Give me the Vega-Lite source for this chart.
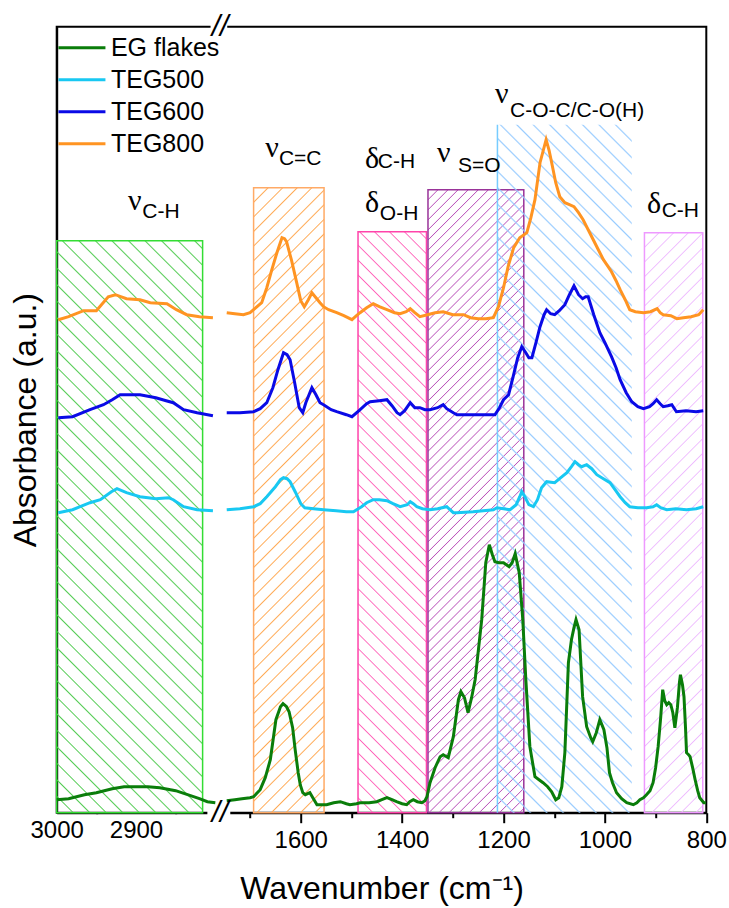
{
"$schema":"https://vega.github.io/schema/vega-lite/v6.json",
"width":649.6,"height":786,
"autosize":"none",
"padding":{"left":56.7,"top":26.7,"right":22.7,"bottom":95.3},
"background":"white",
"config":{"view":{"stroke":"black","strokeWidth":2},"font":"Liberation Sans"},
"datasets":{
"eg":[{"w":3000,"a":13,"g":"L"},{"w":2985,"a":14,"g":"L"},{"w":2965,"a":18,"g":"L"},{"w":2950,"a":20,"g":"L"},{"w":2930,"a":24,"g":"L"},{"w":2915,"a":26,"g":"L"},{"w":2900,"a":26,"g":"L"},{"w":2885,"a":26,"g":"L"},{"w":2870,"a":25,"g":"L"},{"w":2850,"a":22,"g":"L"},{"w":2835,"a":18,"g":"L"},{"w":2820,"a":14,"g":"L"},{"w":2810,"a":11,"g":"L"},{"w":2800,"a":10,"g":"L"},
{"w":1746,"a":12,"g":"R"},{"w":1730,"a":13,"g":"R"},{"w":1716,"a":14,"g":"R"},{"w":1700,"a":15,"g":"R"},{"w":1693,"a":16,"g":"R"},{"w":1680,"a":23,"g":"R"},{"w":1670,"a":35,"g":"R"},{"w":1660,"a":53,"g":"R"},{"w":1649,"a":93,"g":"R"},{"w":1640,"a":106,"g":"R"},{"w":1635,"a":109,"g":"R"},{"w":1628,"a":106,"g":"R"},{"w":1623,"a":101,"g":"R"},{"w":1616,"a":85,"g":"R"},{"w":1611,"a":63,"g":"R"},{"w":1605,"a":40,"g":"R"},{"w":1601,"a":28,"g":"R"},{"w":1596,"a":20,"g":"R"},{"w":1591,"a":18,"g":"R"},{"w":1582,"a":20,"g":"R"},{"w":1575,"a":14,"g":"R"},{"w":1568,"a":8,"g":"R"},{"w":1549,"a":8,"g":"R"},{"w":1535,"a":10,"g":"R"},{"w":1522,"a":11,"g":"R"},{"w":1510,"a":9,"g":"R"},{"w":1503,"a":8,"g":"R"},{"w":1490,"a":9,"g":"R"},{"w":1483,"a":10,"g":"R"},{"w":1465,"a":10,"g":"R"},{"w":1450,"a":11,"g":"R"},{"w":1440,"a":13,"g":"R"},{"w":1430,"a":15,"g":"R"},{"w":1420,"a":13,"g":"R"},{"w":1411,"a":11,"g":"R"},{"w":1400,"a":9,"g":"R"},{"w":1391,"a":8,"g":"R"},{"w":1385,"a":11,"g":"R"},{"w":1378,"a":13,"g":"R"},{"w":1370,"a":11,"g":"R"},{"w":1361,"a":10,"g":"R"},{"w":1355,"a":12,"g":"R"},{"w":1351,"a":16,"g":"R"},{"w":1345,"a":30,"g":"R"},{"w":1335,"a":45,"g":"R"},{"w":1325,"a":56,"g":"R"},{"w":1319,"a":58,"g":"R"},{"w":1309,"a":55,"g":"R"},{"w":1299,"a":76,"g":"R"},{"w":1289,"a":113,"g":"R"},{"w":1284,"a":121,"g":"R"},{"w":1277,"a":115,"g":"R"},{"w":1270,"a":100,"g":"R"},{"w":1263,"a":115,"g":"R"},{"w":1256,"a":133,"g":"R"},{"w":1243,"a":193,"g":"R"},{"w":1235,"a":250,"g":"R"},{"w":1228,"a":268,"g":"R"},{"w":1222,"a":258,"g":"R"},{"w":1217,"a":251,"g":"R"},{"w":1209,"a":250,"g":"R"},{"w":1200,"a":250,"g":"R"},{"w":1189,"a":246,"g":"R"},{"w":1183,"a":250,"g":"R"},{"w":1177,"a":259,"g":"R"},{"w":1169,"a":240,"g":"R"},{"w":1162,"a":193,"g":"R"},{"w":1156,"a":133,"g":"R"},{"w":1148,"a":66,"g":"R"},{"w":1138,"a":36,"g":"R"},{"w":1130,"a":33,"g":"R"},{"w":1122,"a":30,"g":"R"},{"w":1113,"a":26,"g":"R"},{"w":1105,"a":21,"g":"R"},{"w":1097,"a":13,"g":"R"},{"w":1091,"a":15,"g":"R"},{"w":1085,"a":26,"g":"R"},{"w":1079,"a":60,"g":"R"},{"w":1072,"a":150,"g":"R"},{"w":1066,"a":173,"g":"R"},{"w":1061,"a":185,"g":"R"},{"w":1057,"a":193,"g":"R"},{"w":1051,"a":183,"g":"R"},{"w":1044,"a":116,"g":"R"},{"w":1036,"a":86,"g":"R"},{"w":1028,"a":75,"g":"R"},{"w":1024,"a":71,"g":"R"},{"w":1017,"a":80,"g":"R"},{"w":1010,"a":93,"g":"R"},{"w":1002,"a":83,"g":"R"},{"w":996,"a":65,"g":"R"},{"w":991,"a":40,"g":"R"},{"w":985,"a":30,"g":"R"},{"w":977,"a":20,"g":"R"},{"w":967,"a":14,"g":"R"},{"w":957,"a":10,"g":"R"},{"w":944,"a":8,"g":"R"},{"w":937,"a":10,"g":"R"},{"w":931,"a":13,"g":"R"},{"w":924,"a":15,"g":"R"},{"w":918,"a":18,"g":"R"},{"w":911,"a":22,"g":"R"},{"w":905,"a":30,"g":"R"},{"w":900,"a":45,"g":"R"},{"w":895,"a":66,"g":"R"},{"w":890,"a":95,"g":"R"},{"w":886,"a":123,"g":"R"},{"w":882,"a":112,"g":"R"},{"w":878,"a":108,"g":"R"},{"w":874,"a":110,"g":"R"},{"w":870,"a":108,"g":"R"},{"w":866,"a":100,"g":"R"},{"w":862,"a":85,"g":"R"},{"w":857,"a":105,"g":"R"},{"w":853,"a":130,"g":"R"},{"w":851,"a":138,"g":"R"},{"w":847,"a":128,"g":"R"},{"w":844,"a":116,"g":"R"},{"w":841,"a":85,"g":"R"},{"w":839,"a":60,"g":"R"},{"w":835,"a":58,"g":"R"},{"w":832,"a":56,"g":"R"},{"w":827,"a":45,"g":"R"},{"w":822,"a":33,"g":"R"},{"w":817,"a":22,"g":"R"},{"w":813,"a":15,"g":"R"},{"w":805,"a":10,"g":"R"},{"w":801,"a":10,"g":"R"}],
"t500":[{"w":2998,"a":300,"g":"L"},{"w":2980,"a":303,"g":"L"},{"w":2958,"a":310,"g":"L"},{"w":2945,"a":313,"g":"L"},{"w":2931,"a":321,"g":"L"},{"w":2924,"a":324,"g":"L"},{"w":2912,"a":320,"g":"L"},{"w":2895,"a":316,"g":"L"},{"w":2875,"a":314,"g":"L"},{"w":2859,"a":315,"g":"L"},{"w":2853,"a":313,"g":"L"},{"w":2840,"a":306,"g":"L"},{"w":2823,"a":303,"g":"L"},{"w":2803,"a":302,"g":"L"},
{"w":1746,"a":303,"g":"R"},{"w":1720,"a":304,"g":"R"},{"w":1693,"a":306,"g":"R"},{"w":1680,"a":309,"g":"R"},{"w":1667,"a":316,"g":"R"},{"w":1650,"a":326,"g":"R"},{"w":1640,"a":333,"g":"R"},{"w":1634,"a":335,"g":"R"},{"w":1627,"a":334,"g":"R"},{"w":1621,"a":331,"g":"R"},{"w":1610,"a":320,"g":"R"},{"w":1600,"a":309,"g":"R"},{"w":1592,"a":305,"g":"R"},{"w":1575,"a":304,"g":"R"},{"w":1555,"a":303,"g":"R"},{"w":1530,"a":302,"g":"R"},{"w":1510,"a":301,"g":"R"},{"w":1496,"a":301,"g":"R"},{"w":1480,"a":306,"g":"R"},{"w":1470,"a":310,"g":"R"},{"w":1457,"a":313,"g":"R"},{"w":1445,"a":313,"g":"R"},{"w":1430,"a":312,"g":"R"},{"w":1418,"a":309,"g":"R"},{"w":1404,"a":306,"g":"R"},{"w":1390,"a":308,"g":"R"},{"w":1384,"a":311,"g":"R"},{"w":1378,"a":309,"g":"R"},{"w":1371,"a":306,"g":"R"},{"w":1360,"a":304,"g":"R"},{"w":1345,"a":303,"g":"R"},{"w":1330,"a":304,"g":"R"},{"w":1312,"a":306,"g":"R"},{"w":1299,"a":300,"g":"R"},{"w":1292,"a":300,"g":"R"},{"w":1260,"a":301,"g":"R"},{"w":1240,"a":302,"g":"R"},{"w":1220,"a":303,"g":"R"},{"w":1213,"a":305,"g":"R"},{"w":1200,"a":304,"g":"R"},{"w":1187,"a":303,"g":"R"},{"w":1175,"a":308,"g":"R"},{"w":1168,"a":316,"g":"R"},{"w":1164,"a":321,"g":"R"},{"w":1158,"a":316,"g":"R"},{"w":1150,"a":308,"g":"R"},{"w":1141,"a":306,"g":"R"},{"w":1133,"a":313,"g":"R"},{"w":1125,"a":325,"g":"R"},{"w":1115,"a":331,"g":"R"},{"w":1099,"a":330,"g":"R"},{"w":1087,"a":335,"g":"R"},{"w":1075,"a":340,"g":"R"},{"w":1066,"a":346,"g":"R"},{"w":1059,"a":351,"g":"R"},{"w":1052,"a":348,"g":"R"},{"w":1046,"a":346,"g":"R"},{"w":1036,"a":348,"g":"R"},{"w":1026,"a":344,"g":"R"},{"w":1016,"a":338,"g":"R"},{"w":1003,"a":334,"g":"R"},{"w":990,"a":330,"g":"R"},{"w":980,"a":323,"g":"R"},{"w":970,"a":316,"g":"R"},{"w":960,"a":310,"g":"R"},{"w":951,"a":306,"g":"R"},{"w":935,"a":305,"g":"R"},{"w":918,"a":305,"g":"R"},{"w":905,"a":306,"g":"R"},{"w":898,"a":308,"g":"R"},{"w":890,"a":305,"g":"R"},{"w":878,"a":303,"g":"R"},{"w":860,"a":304,"g":"R"},{"w":839,"a":303,"g":"R"},{"w":820,"a":304,"g":"R"},{"w":806,"a":306,"g":"R"}],
"t600":[{"w":2998,"a":395,"g":"L"},{"w":2980,"a":396,"g":"L"},{"w":2958,"a":403,"g":"L"},{"w":2941,"a":408,"g":"L"},{"w":2930,"a":413,"g":"L"},{"w":2920,"a":418,"g":"L"},{"w":2905,"a":418,"g":"L"},{"w":2895,"a":418,"g":"L"},{"w":2875,"a":415,"g":"L"},{"w":2862,"a":412,"g":"L"},{"w":2853,"a":410,"g":"L"},{"w":2840,"a":403,"g":"L"},{"w":2823,"a":400,"g":"L"},{"w":2803,"a":397,"g":"L"},
{"w":1746,"a":400,"g":"R"},{"w":1720,"a":400,"g":"R"},{"w":1693,"a":401,"g":"R"},{"w":1680,"a":404,"g":"R"},{"w":1667,"a":410,"g":"R"},{"w":1655,"a":425,"g":"R"},{"w":1645,"a":443,"g":"R"},{"w":1634,"a":460,"g":"R"},{"w":1627,"a":458,"g":"R"},{"w":1621,"a":453,"g":"R"},{"w":1612,"a":430,"g":"R"},{"w":1603,"a":405,"g":"R"},{"w":1596,"a":400,"g":"R"},{"w":1590,"a":410,"g":"R"},{"w":1578,"a":425,"g":"R"},{"w":1570,"a":418,"g":"R"},{"w":1562,"a":410,"g":"R"},{"w":1555,"a":408,"g":"R"},{"w":1540,"a":403,"g":"R"},{"w":1529,"a":401,"g":"R"},{"w":1510,"a":398,"g":"R"},{"w":1499,"a":396,"g":"R"},{"w":1485,"a":402,"g":"R"},{"w":1470,"a":409,"g":"R"},{"w":1463,"a":411,"g":"R"},{"w":1445,"a":412,"g":"R"},{"w":1430,"a":413,"g":"R"},{"w":1420,"a":407,"g":"R"},{"w":1410,"a":400,"g":"R"},{"w":1404,"a":398,"g":"R"},{"w":1395,"a":402,"g":"R"},{"w":1384,"a":410,"g":"R"},{"w":1375,"a":405,"g":"R"},{"w":1365,"a":405,"g":"R"},{"w":1355,"a":403,"g":"R"},{"w":1345,"a":403,"g":"R"},{"w":1330,"a":405,"g":"R"},{"w":1319,"a":408,"g":"R"},{"w":1312,"a":404,"g":"R"},{"w":1299,"a":400,"g":"R"},{"w":1292,"a":398,"g":"R"},{"w":1260,"a":398,"g":"R"},{"w":1240,"a":398,"g":"R"},{"w":1217,"a":398,"g":"R"},{"w":1208,"a":405,"g":"R"},{"w":1200,"a":413,"g":"R"},{"w":1190,"a":418,"g":"R"},{"w":1181,"a":436,"g":"R"},{"w":1172,"a":455,"g":"R"},{"w":1164,"a":466,"g":"R"},{"w":1156,"a":460,"g":"R"},{"w":1150,"a":455,"g":"R"},{"w":1144,"a":455,"g":"R"},{"w":1136,"a":470,"g":"R"},{"w":1128,"a":486,"g":"R"},{"w":1120,"a":498,"g":"R"},{"w":1115,"a":503,"g":"R"},{"w":1107,"a":499,"g":"R"},{"w":1099,"a":498,"g":"R"},{"w":1090,"a":502,"g":"R"},{"w":1079,"a":508,"g":"R"},{"w":1070,"a":518,"g":"R"},{"w":1061,"a":527,"g":"R"},{"w":1052,"a":518,"g":"R"},{"w":1044,"a":514,"g":"R"},{"w":1038,"a":516,"g":"R"},{"w":1033,"a":516,"g":"R"},{"w":1022,"a":498,"g":"R"},{"w":1010,"a":480,"g":"R"},{"w":1000,"a":470,"g":"R"},{"w":987,"a":456,"g":"R"},{"w":978,"a":445,"g":"R"},{"w":970,"a":433,"g":"R"},{"w":958,"a":420,"g":"R"},{"w":947,"a":411,"g":"R"},{"w":935,"a":406,"g":"R"},{"w":924,"a":404,"g":"R"},{"w":912,"a":406,"g":"R"},{"w":905,"a":409,"g":"R"},{"w":898,"a":413,"g":"R"},{"w":891,"a":409,"g":"R"},{"w":885,"a":406,"g":"R"},{"w":876,"a":407,"g":"R"},{"w":868,"a":408,"g":"R"},{"w":859,"a":401,"g":"R"},{"w":840,"a":402,"g":"R"},{"w":820,"a":401,"g":"R"},{"w":806,"a":402,"g":"R"}],
"t800":[{"w":2998,"a":493,"g":"L"},{"w":2985,"a":496,"g":"L"},{"w":2966,"a":502,"g":"L"},{"w":2950,"a":502,"g":"L"},{"w":2935,"a":516,"g":"L"},{"w":2926,"a":518,"g":"L"},{"w":2912,"a":514,"g":"L"},{"w":2895,"a":513,"g":"L"},{"w":2882,"a":510,"g":"L"},{"w":2861,"a":509,"g":"L"},{"w":2849,"a":503,"g":"L"},{"w":2836,"a":498,"g":"L"},{"w":2820,"a":496,"g":"L"},{"w":2803,"a":495,"g":"L"},
{"w":1746,"a":500,"g":"R"},{"w":1730,"a":499,"g":"R"},{"w":1713,"a":498,"g":"R"},{"w":1700,"a":500,"g":"R"},{"w":1693,"a":503,"g":"R"},{"w":1677,"a":510,"g":"R"},{"w":1667,"a":525,"g":"R"},{"w":1657,"a":543,"g":"R"},{"w":1647,"a":560,"g":"R"},{"w":1637,"a":575,"g":"R"},{"w":1632,"a":574,"g":"R"},{"w":1628,"a":571,"g":"R"},{"w":1618,"a":552,"g":"R"},{"w":1608,"a":530,"g":"R"},{"w":1600,"a":512,"g":"R"},{"w":1593,"a":506,"g":"R"},{"w":1585,"a":513,"g":"R"},{"w":1578,"a":520,"g":"R"},{"w":1570,"a":515,"g":"R"},{"w":1562,"a":510,"g":"R"},{"w":1555,"a":506,"g":"R"},{"w":1545,"a":503,"g":"R"},{"w":1529,"a":500,"g":"R"},{"w":1515,"a":497,"g":"R"},{"w":1499,"a":493,"g":"R"},{"w":1490,"a":497,"g":"R"},{"w":1483,"a":500,"g":"R"},{"w":1470,"a":505,"g":"R"},{"w":1457,"a":509,"g":"R"},{"w":1445,"a":506,"g":"R"},{"w":1430,"a":503,"g":"R"},{"w":1415,"a":500,"g":"R"},{"w":1404,"a":499,"g":"R"},{"w":1392,"a":501,"g":"R"},{"w":1384,"a":504,"g":"R"},{"w":1375,"a":500,"g":"R"},{"w":1365,"a":496,"g":"R"},{"w":1350,"a":498,"g":"R"},{"w":1335,"a":500,"g":"R"},{"w":1319,"a":501,"g":"R"},{"w":1300,"a":498,"g":"R"},{"w":1279,"a":498,"g":"R"},{"w":1265,"a":495,"g":"R"},{"w":1250,"a":494,"g":"R"},{"w":1235,"a":494,"g":"R"},{"w":1220,"a":495,"g":"R"},{"w":1210,"a":506,"g":"R"},{"w":1200,"a":525,"g":"R"},{"w":1191,"a":546,"g":"R"},{"w":1180,"a":565,"g":"R"},{"w":1168,"a":575,"g":"R"},{"w":1154,"a":580,"g":"R"},{"w":1146,"a":595,"g":"R"},{"w":1138,"a":613,"g":"R"},{"w":1128,"a":650,"g":"R"},{"w":1116,"a":673,"g":"R"},{"w":1110,"a":662,"g":"R"},{"w":1105,"a":650,"g":"R"},{"w":1097,"a":630,"g":"R"},{"w":1089,"a":616,"g":"R"},{"w":1079,"a":610,"g":"R"},{"w":1070,"a":608,"g":"R"},{"w":1061,"a":606,"g":"R"},{"w":1052,"a":600,"g":"R"},{"w":1043,"a":593,"g":"R"},{"w":1033,"a":583,"g":"R"},{"w":1023,"a":573,"g":"R"},{"w":1013,"a":563,"g":"R"},{"w":1003,"a":553,"g":"R"},{"w":995,"a":547,"g":"R"},{"w":987,"a":541,"g":"R"},{"w":978,"a":532,"g":"R"},{"w":970,"a":523,"g":"R"},{"w":960,"a":513,"g":"R"},{"w":951,"a":503,"g":"R"},{"w":940,"a":501,"g":"R"},{"w":924,"a":500,"g":"R"},{"w":910,"a":501,"g":"R"},{"w":897,"a":504,"g":"R"},{"w":891,"a":500,"g":"R"},{"w":885,"a":498,"g":"R"},{"w":870,"a":497,"g":"R"},{"w":858,"a":494,"g":"R"},{"w":845,"a":495,"g":"R"},{"w":830,"a":496,"g":"R"},{"w":815,"a":498,"g":"R"},{"w":806,"a":503,"g":"R"}],
"greek":[{"w":2910,"a":603,"t":"ν"},{"w":1670,"a":656,"t":"ν"},{"w":1473,"a":645,"t":"δ"},{"w":1473,"a":601,"t":"δ"},{"w":1331,"a":651,"t":"ν"},{"w":1217,"a":710,"t":"ν"},{"w":917,"a":600,"t":"δ"}],
"subs":[{"w":2892,"a":595,"t":"C-H"},{"w":1643,"a":648,"t":"C=C"},{"w":1448,"a":645,"t":"C-H"},{"w":1444,"a":593,"t":"O-H"},{"w":1290,"a":641,"t":"S=O"},{"w":1187,"a":696,"t":"C-O-C/C-O(H)"},{"w":888,"a":596,"t":"C-H"}]
},
"encoding":{
"x":{"field":"w","type":"quantitative","scale":{"domain":[3000,2800,1750,800],"range":[0,158.6,168,649.6],"nice":false,"zero":false},
"axis":{"title":"Wavenumber (cm⁻¹)","format":"d","values":[3000,2950,2900,2850,1700,1600,1500,1400,1300,1200,1100,1000,900,800],
"labelExpr":"(datum.value > 2000 ? datum.value % 100 != 0 : datum.value % 200 == 100) ? '' : datum.label",
"tickSize":{"condition":{"test":"datum.value > 2000 ? datum.value % 100 != 0 : datum.value % 200 == 100","value":5},"value":10},
"tickWidth":2,"tickColor":"black","domainColor":"black","domainWidth":2,"grid":false,
"labelFontSize":24,"labelColor":"black","labelPadding":6,"labelFlush":false,"labelOverlap":false,"labelBound":false,
"titleFontSize":32,"titleFontWeight":"normal","titleColor":"black","titlePadding":21}},
"y":{"field":"a","type":"quantitative","scale":{"domain":[0,786],"nice":false,"zero":false},
"axis":{"title":"Absorbance (a.u.)","ticks":false,"labels":false,"domain":true,"domainColor":"black","domainWidth":2,"grid":false,
"titleFontSize":32,"titleFontWeight":"normal","titleColor":"black","titlePadding":14}}
},
"layer":[
{"data":{"values":[{"w":3000,"w2":2816,"a":0,"a2":572}]},
"mark":{"type":"rect","stroke":"#3d3","strokeWidth":1.5,"fill":{"gradient":"linear","x1":0,"y1":1,"x2":0.3,"y2":-0.178,"stops":[
{"offset":0.021,"color":"#5c50"},{"offset":0.023,"color":"#5c5"},{"offset":0.025,"color":"#5c50"},
{"offset":0.044,"color":"#5c50"},{"offset":0.046,"color":"#5c5"},{"offset":0.048,"color":"#5c50"},
{"offset":0.067,"color":"#5c50"},{"offset":0.069,"color":"#5c5"},{"offset":0.071,"color":"#5c50"},
{"offset":0.09,"color":"#5c50"},{"offset":0.092,"color":"#5c5"},{"offset":0.094,"color":"#5c50"},
{"offset":0.113,"color":"#5c50"},{"offset":0.115,"color":"#5c5"},{"offset":0.117,"color":"#5c50"},
{"offset":0.136,"color":"#5c50"},{"offset":0.138,"color":"#5c5"},{"offset":0.14,"color":"#5c50"},
{"offset":0.159,"color":"#5c50"},{"offset":0.161,"color":"#5c5"},{"offset":0.163,"color":"#5c50"},
{"offset":0.182,"color":"#5c50"},{"offset":0.184,"color":"#5c5"},{"offset":0.186,"color":"#5c50"},
{"offset":0.205,"color":"#5c50"},{"offset":0.207,"color":"#5c5"},{"offset":0.209,"color":"#5c50"},
{"offset":0.228,"color":"#5c50"},{"offset":0.23,"color":"#5c5"},{"offset":0.232,"color":"#5c50"},
{"offset":0.251,"color":"#5c50"},{"offset":0.253,"color":"#5c5"},{"offset":0.255,"color":"#5c50"},
{"offset":0.274,"color":"#5c50"},{"offset":0.276,"color":"#5c5"},{"offset":0.278,"color":"#5c50"},
{"offset":0.297,"color":"#5c50"},{"offset":0.299,"color":"#5c5"},{"offset":0.301,"color":"#5c50"},
{"offset":0.32,"color":"#5c50"},{"offset":0.322,"color":"#5c5"},{"offset":0.324,"color":"#5c50"},
{"offset":0.343,"color":"#5c50"},{"offset":0.345,"color":"#5c5"},{"offset":0.347,"color":"#5c50"},
{"offset":0.366,"color":"#5c50"},{"offset":0.368,"color":"#5c5"},{"offset":0.37,"color":"#5c50"},
{"offset":0.389,"color":"#5c50"},{"offset":0.391,"color":"#5c5"},{"offset":0.393,"color":"#5c50"},
{"offset":0.412,"color":"#5c50"},{"offset":0.414,"color":"#5c5"},{"offset":0.416,"color":"#5c50"},
{"offset":0.435,"color":"#5c50"},{"offset":0.437,"color":"#5c5"},{"offset":0.439,"color":"#5c50"},
{"offset":0.458,"color":"#5c50"},{"offset":0.46,"color":"#5c5"},{"offset":0.462,"color":"#5c50"},
{"offset":0.481,"color":"#5c50"},{"offset":0.483,"color":"#5c5"},{"offset":0.485,"color":"#5c50"},
{"offset":0.504,"color":"#5c50"},{"offset":0.506,"color":"#5c5"},{"offset":0.508,"color":"#5c50"},
{"offset":0.527,"color":"#5c50"},{"offset":0.529,"color":"#5c5"},{"offset":0.531,"color":"#5c50"},
{"offset":0.55,"color":"#5c50"},{"offset":0.552,"color":"#5c5"},{"offset":0.554,"color":"#5c50"},
{"offset":0.573,"color":"#5c50"},{"offset":0.575,"color":"#5c5"},{"offset":0.577,"color":"#5c50"},
{"offset":0.596,"color":"#5c50"},{"offset":0.598,"color":"#5c5"},{"offset":0.6,"color":"#5c50"},
{"offset":0.619,"color":"#5c50"},{"offset":0.621,"color":"#5c5"},{"offset":0.623,"color":"#5c50"},
{"offset":0.642,"color":"#5c50"},{"offset":0.644,"color":"#5c5"},{"offset":0.646,"color":"#5c50"},
{"offset":0.665,"color":"#5c50"},{"offset":0.667,"color":"#5c5"},{"offset":0.669,"color":"#5c50"},
{"offset":0.688,"color":"#5c50"},{"offset":0.69,"color":"#5c5"},{"offset":0.692,"color":"#5c50"},
{"offset":0.711,"color":"#5c50"},{"offset":0.713,"color":"#5c5"},{"offset":0.715,"color":"#5c50"},
{"offset":0.734,"color":"#5c50"},{"offset":0.736,"color":"#5c5"},{"offset":0.738,"color":"#5c50"},
{"offset":0.757,"color":"#5c50"},{"offset":0.759,"color":"#5c5"},{"offset":0.761,"color":"#5c50"},
{"offset":0.78,"color":"#5c50"},{"offset":0.782,"color":"#5c5"},{"offset":0.784,"color":"#5c50"},
{"offset":0.803,"color":"#5c50"},{"offset":0.805,"color":"#5c5"},{"offset":0.807,"color":"#5c50"},
{"offset":0.826,"color":"#5c50"},{"offset":0.828,"color":"#5c5"},{"offset":0.83,"color":"#5c50"},
{"offset":0.849,"color":"#5c50"},{"offset":0.851,"color":"#5c5"},{"offset":0.853,"color":"#5c50"},
{"offset":0.872,"color":"#5c50"},{"offset":0.874,"color":"#5c5"},{"offset":0.876,"color":"#5c50"},
{"offset":0.895,"color":"#5c50"},{"offset":0.897,"color":"#5c5"},{"offset":0.899,"color":"#5c50"},
{"offset":0.918,"color":"#5c50"},{"offset":0.92,"color":"#5c5"},{"offset":0.922,"color":"#5c50"},
{"offset":0.941,"color":"#5c50"},{"offset":0.943,"color":"#5c5"},{"offset":0.945,"color":"#5c50"},
{"offset":0.964,"color":"#5c50"},{"offset":0.966,"color":"#5c5"},{"offset":0.968,"color":"#5c50"},
{"offset":0.987,"color":"#5c50"},{"offset":0.989,"color":"#5c5"},{"offset":0.991,"color":"#5c50"}]}},
"encoding":{"x2":{"field":"w2"},"y2":{"field":"a2"}}},
{"data":{"values":[{"w":1693,"w2":1554,"a":0,"a2":625}]},
"mark":{"type":"rect","stroke":"#fa6","strokeWidth":1.5,"fill":{"gradient":"linear","x1":0,"y1":0,"x2":0.1242,"y2":1.099,"stops":[
{"offset":0.019,"color":"#fa50"},{"offset":0.021,"color":"#fa5"},{"offset":0.023,"color":"#fa50"},
{"offset":0.04,"color":"#fa50"},{"offset":0.042,"color":"#fa5"},{"offset":0.044,"color":"#fa50"},
{"offset":0.061,"color":"#fa50"},{"offset":0.063,"color":"#fa5"},{"offset":0.065,"color":"#fa50"},
{"offset":0.082,"color":"#fa50"},{"offset":0.084,"color":"#fa5"},{"offset":0.086,"color":"#fa50"},
{"offset":0.103,"color":"#fa50"},{"offset":0.105,"color":"#fa5"},{"offset":0.107,"color":"#fa50"},
{"offset":0.124,"color":"#fa50"},{"offset":0.126,"color":"#fa5"},{"offset":0.128,"color":"#fa50"},
{"offset":0.145,"color":"#fa50"},{"offset":0.147,"color":"#fa5"},{"offset":0.149,"color":"#fa50"},
{"offset":0.166,"color":"#fa50"},{"offset":0.168,"color":"#fa5"},{"offset":0.17,"color":"#fa50"},
{"offset":0.187,"color":"#fa50"},{"offset":0.189,"color":"#fa5"},{"offset":0.191,"color":"#fa50"},
{"offset":0.208,"color":"#fa50"},{"offset":0.21,"color":"#fa5"},{"offset":0.212,"color":"#fa50"},
{"offset":0.229,"color":"#fa50"},{"offset":0.231,"color":"#fa5"},{"offset":0.233,"color":"#fa50"},
{"offset":0.25,"color":"#fa50"},{"offset":0.252,"color":"#fa5"},{"offset":0.254,"color":"#fa50"},
{"offset":0.271,"color":"#fa50"},{"offset":0.273,"color":"#fa5"},{"offset":0.275,"color":"#fa50"},
{"offset":0.292,"color":"#fa50"},{"offset":0.294,"color":"#fa5"},{"offset":0.296,"color":"#fa50"},
{"offset":0.313,"color":"#fa50"},{"offset":0.315,"color":"#fa5"},{"offset":0.317,"color":"#fa50"},
{"offset":0.334,"color":"#fa50"},{"offset":0.336,"color":"#fa5"},{"offset":0.338,"color":"#fa50"},
{"offset":0.355,"color":"#fa50"},{"offset":0.357,"color":"#fa5"},{"offset":0.359,"color":"#fa50"},
{"offset":0.376,"color":"#fa50"},{"offset":0.378,"color":"#fa5"},{"offset":0.38,"color":"#fa50"},
{"offset":0.397,"color":"#fa50"},{"offset":0.399,"color":"#fa5"},{"offset":0.401,"color":"#fa50"},
{"offset":0.418,"color":"#fa50"},{"offset":0.42,"color":"#fa5"},{"offset":0.422,"color":"#fa50"},
{"offset":0.439,"color":"#fa50"},{"offset":0.441,"color":"#fa5"},{"offset":0.443,"color":"#fa50"},
{"offset":0.46,"color":"#fa50"},{"offset":0.462,"color":"#fa5"},{"offset":0.464,"color":"#fa50"},
{"offset":0.481,"color":"#fa50"},{"offset":0.483,"color":"#fa5"},{"offset":0.485,"color":"#fa50"},
{"offset":0.502,"color":"#fa50"},{"offset":0.504,"color":"#fa5"},{"offset":0.506,"color":"#fa50"},
{"offset":0.523,"color":"#fa50"},{"offset":0.525,"color":"#fa5"},{"offset":0.527,"color":"#fa50"},
{"offset":0.544,"color":"#fa50"},{"offset":0.546,"color":"#fa5"},{"offset":0.548,"color":"#fa50"},
{"offset":0.565,"color":"#fa50"},{"offset":0.567,"color":"#fa5"},{"offset":0.569,"color":"#fa50"},
{"offset":0.586,"color":"#fa50"},{"offset":0.588,"color":"#fa5"},{"offset":0.59,"color":"#fa50"},
{"offset":0.607,"color":"#fa50"},{"offset":0.609,"color":"#fa5"},{"offset":0.611,"color":"#fa50"},
{"offset":0.628,"color":"#fa50"},{"offset":0.63,"color":"#fa5"},{"offset":0.632,"color":"#fa50"},
{"offset":0.649,"color":"#fa50"},{"offset":0.651,"color":"#fa5"},{"offset":0.653,"color":"#fa50"},
{"offset":0.67,"color":"#fa50"},{"offset":0.672,"color":"#fa5"},{"offset":0.674,"color":"#fa50"},
{"offset":0.691,"color":"#fa50"},{"offset":0.693,"color":"#fa5"},{"offset":0.695,"color":"#fa50"},
{"offset":0.712,"color":"#fa50"},{"offset":0.714,"color":"#fa5"},{"offset":0.716,"color":"#fa50"},
{"offset":0.733,"color":"#fa50"},{"offset":0.735,"color":"#fa5"},{"offset":0.737,"color":"#fa50"},
{"offset":0.754,"color":"#fa50"},{"offset":0.756,"color":"#fa5"},{"offset":0.758,"color":"#fa50"},
{"offset":0.775,"color":"#fa50"},{"offset":0.777,"color":"#fa5"},{"offset":0.779,"color":"#fa50"},
{"offset":0.796,"color":"#fa50"},{"offset":0.798,"color":"#fa5"},{"offset":0.8,"color":"#fa50"},
{"offset":0.817,"color":"#fa50"},{"offset":0.819,"color":"#fa5"},{"offset":0.821,"color":"#fa50"},
{"offset":0.838,"color":"#fa50"},{"offset":0.84,"color":"#fa5"},{"offset":0.842,"color":"#fa50"},
{"offset":0.859,"color":"#fa50"},{"offset":0.861,"color":"#fa5"},{"offset":0.863,"color":"#fa50"},
{"offset":0.88,"color":"#fa50"},{"offset":0.882,"color":"#fa5"},{"offset":0.884,"color":"#fa50"},
{"offset":0.901,"color":"#fa50"},{"offset":0.903,"color":"#fa5"},{"offset":0.905,"color":"#fa50"},
{"offset":0.922,"color":"#fa50"},{"offset":0.924,"color":"#fa5"},{"offset":0.926,"color":"#fa50"},
{"offset":0.943,"color":"#fa50"},{"offset":0.945,"color":"#fa5"},{"offset":0.947,"color":"#fa50"},
{"offset":0.964,"color":"#fa50"},{"offset":0.966,"color":"#fa5"},{"offset":0.968,"color":"#fa50"},
{"offset":0.985,"color":"#fa50"},{"offset":0.987,"color":"#fa5"},{"offset":0.989,"color":"#fa50"}]}},
"encoding":{"x2":{"field":"w2"},"y2":{"field":"a2"}}},
{"data":{"values":[{"w":1487,"w2":1352,"a":0,"a2":581}]},
"mark":{"type":"rect","stroke":"#f4a","strokeWidth":1.5,"fill":{"gradient":"linear","x1":0,"y1":1,"x2":0.1298,"y2":-0.1024,"stops":[
{"offset":0.021,"color":"#f6b0"},{"offset":0.023,"color":"#f6b"},{"offset":0.025,"color":"#f6b0"},
{"offset":0.044,"color":"#f6b0"},{"offset":0.046,"color":"#f6b"},{"offset":0.048,"color":"#f6b0"},
{"offset":0.067,"color":"#f6b0"},{"offset":0.069,"color":"#f6b"},{"offset":0.071,"color":"#f6b0"},
{"offset":0.09,"color":"#f6b0"},{"offset":0.092,"color":"#f6b"},{"offset":0.094,"color":"#f6b0"},
{"offset":0.113,"color":"#f6b0"},{"offset":0.115,"color":"#f6b"},{"offset":0.117,"color":"#f6b0"},
{"offset":0.136,"color":"#f6b0"},{"offset":0.138,"color":"#f6b"},{"offset":0.14,"color":"#f6b0"},
{"offset":0.159,"color":"#f6b0"},{"offset":0.161,"color":"#f6b"},{"offset":0.163,"color":"#f6b0"},
{"offset":0.182,"color":"#f6b0"},{"offset":0.184,"color":"#f6b"},{"offset":0.186,"color":"#f6b0"},
{"offset":0.205,"color":"#f6b0"},{"offset":0.207,"color":"#f6b"},{"offset":0.209,"color":"#f6b0"},
{"offset":0.228,"color":"#f6b0"},{"offset":0.23,"color":"#f6b"},{"offset":0.232,"color":"#f6b0"},
{"offset":0.251,"color":"#f6b0"},{"offset":0.253,"color":"#f6b"},{"offset":0.255,"color":"#f6b0"},
{"offset":0.274,"color":"#f6b0"},{"offset":0.276,"color":"#f6b"},{"offset":0.278,"color":"#f6b0"},
{"offset":0.297,"color":"#f6b0"},{"offset":0.299,"color":"#f6b"},{"offset":0.301,"color":"#f6b0"},
{"offset":0.32,"color":"#f6b0"},{"offset":0.322,"color":"#f6b"},{"offset":0.324,"color":"#f6b0"},
{"offset":0.343,"color":"#f6b0"},{"offset":0.345,"color":"#f6b"},{"offset":0.347,"color":"#f6b0"},
{"offset":0.366,"color":"#f6b0"},{"offset":0.368,"color":"#f6b"},{"offset":0.37,"color":"#f6b0"},
{"offset":0.389,"color":"#f6b0"},{"offset":0.391,"color":"#f6b"},{"offset":0.393,"color":"#f6b0"},
{"offset":0.412,"color":"#f6b0"},{"offset":0.414,"color":"#f6b"},{"offset":0.416,"color":"#f6b0"},
{"offset":0.435,"color":"#f6b0"},{"offset":0.437,"color":"#f6b"},{"offset":0.439,"color":"#f6b0"},
{"offset":0.458,"color":"#f6b0"},{"offset":0.46,"color":"#f6b"},{"offset":0.462,"color":"#f6b0"},
{"offset":0.481,"color":"#f6b0"},{"offset":0.483,"color":"#f6b"},{"offset":0.485,"color":"#f6b0"},
{"offset":0.504,"color":"#f6b0"},{"offset":0.506,"color":"#f6b"},{"offset":0.508,"color":"#f6b0"},
{"offset":0.527,"color":"#f6b0"},{"offset":0.529,"color":"#f6b"},{"offset":0.531,"color":"#f6b0"},
{"offset":0.55,"color":"#f6b0"},{"offset":0.552,"color":"#f6b"},{"offset":0.554,"color":"#f6b0"},
{"offset":0.573,"color":"#f6b0"},{"offset":0.575,"color":"#f6b"},{"offset":0.577,"color":"#f6b0"},
{"offset":0.596,"color":"#f6b0"},{"offset":0.598,"color":"#f6b"},{"offset":0.6,"color":"#f6b0"},
{"offset":0.619,"color":"#f6b0"},{"offset":0.621,"color":"#f6b"},{"offset":0.623,"color":"#f6b0"},
{"offset":0.642,"color":"#f6b0"},{"offset":0.644,"color":"#f6b"},{"offset":0.646,"color":"#f6b0"},
{"offset":0.665,"color":"#f6b0"},{"offset":0.667,"color":"#f6b"},{"offset":0.669,"color":"#f6b0"},
{"offset":0.688,"color":"#f6b0"},{"offset":0.69,"color":"#f6b"},{"offset":0.692,"color":"#f6b0"},
{"offset":0.711,"color":"#f6b0"},{"offset":0.713,"color":"#f6b"},{"offset":0.715,"color":"#f6b0"},
{"offset":0.734,"color":"#f6b0"},{"offset":0.736,"color":"#f6b"},{"offset":0.738,"color":"#f6b0"},
{"offset":0.757,"color":"#f6b0"},{"offset":0.759,"color":"#f6b"},{"offset":0.761,"color":"#f6b0"},
{"offset":0.78,"color":"#f6b0"},{"offset":0.782,"color":"#f6b"},{"offset":0.784,"color":"#f6b0"},
{"offset":0.803,"color":"#f6b0"},{"offset":0.805,"color":"#f6b"},{"offset":0.807,"color":"#f6b0"},
{"offset":0.826,"color":"#f6b0"},{"offset":0.828,"color":"#f6b"},{"offset":0.83,"color":"#f6b0"},
{"offset":0.849,"color":"#f6b0"},{"offset":0.851,"color":"#f6b"},{"offset":0.853,"color":"#f6b0"},
{"offset":0.872,"color":"#f6b0"},{"offset":0.874,"color":"#f6b"},{"offset":0.876,"color":"#f6b0"},
{"offset":0.895,"color":"#f6b0"},{"offset":0.897,"color":"#f6b"},{"offset":0.899,"color":"#f6b0"},
{"offset":0.918,"color":"#f6b0"},{"offset":0.92,"color":"#f6b"},{"offset":0.922,"color":"#f6b0"},
{"offset":0.941,"color":"#f6b0"},{"offset":0.943,"color":"#f6b"},{"offset":0.945,"color":"#f6b0"},
{"offset":0.964,"color":"#f6b0"},{"offset":0.966,"color":"#f6b"},{"offset":0.968,"color":"#f6b0"},
{"offset":0.987,"color":"#f6b0"},{"offset":0.989,"color":"#f6b"},{"offset":0.991,"color":"#f6b0"}]}},
"encoding":{"x2":{"field":"w2"},"y2":{"field":"a2"}}},
{"data":{"values":[{"w":1349,"w2":1160,"a":0,"a2":623}]},
"mark":{"type":"rect","stroke":"#939","strokeWidth":1.5,"fill":{"gradient":"linear","x1":0,"y1":0,"x2":0.1732,"y2":1.1271,"stops":[
{"offset":0.0125,"color":"#b5b0"},{"offset":0.014,"color":"#b5b"},{"offset":0.0155,"color":"#b5b0"},
{"offset":0.0265,"color":"#b5b0"},{"offset":0.028,"color":"#b5b"},{"offset":0.0295,"color":"#b5b0"},
{"offset":0.0405,"color":"#b5b0"},{"offset":0.042,"color":"#b5b"},{"offset":0.0435,"color":"#b5b0"},
{"offset":0.0545,"color":"#b5b0"},{"offset":0.056,"color":"#b5b"},{"offset":0.0575,"color":"#b5b0"},
{"offset":0.0685,"color":"#b5b0"},{"offset":0.07,"color":"#b5b"},{"offset":0.0715,"color":"#b5b0"},
{"offset":0.0825,"color":"#b5b0"},{"offset":0.084,"color":"#b5b"},{"offset":0.0855,"color":"#b5b0"},
{"offset":0.0965,"color":"#b5b0"},{"offset":0.098,"color":"#b5b"},{"offset":0.0995,"color":"#b5b0"},
{"offset":0.1105,"color":"#b5b0"},{"offset":0.112,"color":"#b5b"},{"offset":0.1135,"color":"#b5b0"},
{"offset":0.1245,"color":"#b5b0"},{"offset":0.126,"color":"#b5b"},{"offset":0.1275,"color":"#b5b0"},
{"offset":0.1385,"color":"#b5b0"},{"offset":0.14,"color":"#b5b"},{"offset":0.1415,"color":"#b5b0"},
{"offset":0.1525,"color":"#b5b0"},{"offset":0.154,"color":"#b5b"},{"offset":0.1555,"color":"#b5b0"},
{"offset":0.1665,"color":"#b5b0"},{"offset":0.168,"color":"#b5b"},{"offset":0.1695,"color":"#b5b0"},
{"offset":0.1805,"color":"#b5b0"},{"offset":0.182,"color":"#b5b"},{"offset":0.1835,"color":"#b5b0"},
{"offset":0.1945,"color":"#b5b0"},{"offset":0.196,"color":"#b5b"},{"offset":0.1975,"color":"#b5b0"},
{"offset":0.2085,"color":"#b5b0"},{"offset":0.21,"color":"#b5b"},{"offset":0.2115,"color":"#b5b0"},
{"offset":0.2225,"color":"#b5b0"},{"offset":0.224,"color":"#b5b"},{"offset":0.2255,"color":"#b5b0"},
{"offset":0.2365,"color":"#b5b0"},{"offset":0.238,"color":"#b5b"},{"offset":0.2395,"color":"#b5b0"},
{"offset":0.2505,"color":"#b5b0"},{"offset":0.252,"color":"#b5b"},{"offset":0.2535,"color":"#b5b0"},
{"offset":0.2645,"color":"#b5b0"},{"offset":0.266,"color":"#b5b"},{"offset":0.2675,"color":"#b5b0"},
{"offset":0.2785,"color":"#b5b0"},{"offset":0.28,"color":"#b5b"},{"offset":0.2815,"color":"#b5b0"},
{"offset":0.2925,"color":"#b5b0"},{"offset":0.294,"color":"#b5b"},{"offset":0.2955,"color":"#b5b0"},
{"offset":0.3065,"color":"#b5b0"},{"offset":0.308,"color":"#b5b"},{"offset":0.3095,"color":"#b5b0"},
{"offset":0.3205,"color":"#b5b0"},{"offset":0.322,"color":"#b5b"},{"offset":0.3235,"color":"#b5b0"},
{"offset":0.3345,"color":"#b5b0"},{"offset":0.336,"color":"#b5b"},{"offset":0.3375,"color":"#b5b0"},
{"offset":0.3485,"color":"#b5b0"},{"offset":0.35,"color":"#b5b"},{"offset":0.3515,"color":"#b5b0"},
{"offset":0.3625,"color":"#b5b0"},{"offset":0.364,"color":"#b5b"},{"offset":0.3655,"color":"#b5b0"},
{"offset":0.3765,"color":"#b5b0"},{"offset":0.378,"color":"#b5b"},{"offset":0.3795,"color":"#b5b0"},
{"offset":0.3905,"color":"#b5b0"},{"offset":0.392,"color":"#b5b"},{"offset":0.3935,"color":"#b5b0"},
{"offset":0.4045,"color":"#b5b0"},{"offset":0.406,"color":"#b5b"},{"offset":0.4075,"color":"#b5b0"},
{"offset":0.4185,"color":"#b5b0"},{"offset":0.42,"color":"#b5b"},{"offset":0.4215,"color":"#b5b0"},
{"offset":0.4325,"color":"#b5b0"},{"offset":0.434,"color":"#b5b"},{"offset":0.4355,"color":"#b5b0"},
{"offset":0.4465,"color":"#b5b0"},{"offset":0.448,"color":"#b5b"},{"offset":0.4495,"color":"#b5b0"},
{"offset":0.4605,"color":"#b5b0"},{"offset":0.462,"color":"#b5b"},{"offset":0.4635,"color":"#b5b0"},
{"offset":0.4745,"color":"#b5b0"},{"offset":0.476,"color":"#b5b"},{"offset":0.4775,"color":"#b5b0"},
{"offset":0.4885,"color":"#b5b0"},{"offset":0.49,"color":"#b5b"},{"offset":0.4915,"color":"#b5b0"},
{"offset":0.5025,"color":"#b5b0"},{"offset":0.504,"color":"#b5b"},{"offset":0.5055,"color":"#b5b0"},
{"offset":0.5165,"color":"#b5b0"},{"offset":0.518,"color":"#b5b"},{"offset":0.5195,"color":"#b5b0"},
{"offset":0.5305,"color":"#b5b0"},{"offset":0.532,"color":"#b5b"},{"offset":0.5335,"color":"#b5b0"},
{"offset":0.5445,"color":"#b5b0"},{"offset":0.546,"color":"#b5b"},{"offset":0.5475,"color":"#b5b0"},
{"offset":0.5585,"color":"#b5b0"},{"offset":0.56,"color":"#b5b"},{"offset":0.5615,"color":"#b5b0"},
{"offset":0.5725,"color":"#b5b0"},{"offset":0.574,"color":"#b5b"},{"offset":0.5755,"color":"#b5b0"},
{"offset":0.5865,"color":"#b5b0"},{"offset":0.588,"color":"#b5b"},{"offset":0.5895,"color":"#b5b0"},
{"offset":0.6005,"color":"#b5b0"},{"offset":0.602,"color":"#b5b"},{"offset":0.6035,"color":"#b5b0"},
{"offset":0.6145,"color":"#b5b0"},{"offset":0.616,"color":"#b5b"},{"offset":0.6175,"color":"#b5b0"},
{"offset":0.6285,"color":"#b5b0"},{"offset":0.63,"color":"#b5b"},{"offset":0.6315,"color":"#b5b0"},
{"offset":0.6425,"color":"#b5b0"},{"offset":0.644,"color":"#b5b"},{"offset":0.6455,"color":"#b5b0"},
{"offset":0.6565,"color":"#b5b0"},{"offset":0.658,"color":"#b5b"},{"offset":0.6595,"color":"#b5b0"},
{"offset":0.6705,"color":"#b5b0"},{"offset":0.672,"color":"#b5b"},{"offset":0.6735,"color":"#b5b0"},
{"offset":0.6845,"color":"#b5b0"},{"offset":0.686,"color":"#b5b"},{"offset":0.6875,"color":"#b5b0"},
{"offset":0.6985,"color":"#b5b0"},{"offset":0.7,"color":"#b5b"},{"offset":0.7015,"color":"#b5b0"},
{"offset":0.7125,"color":"#b5b0"},{"offset":0.714,"color":"#b5b"},{"offset":0.7155,"color":"#b5b0"},
{"offset":0.7265,"color":"#b5b0"},{"offset":0.728,"color":"#b5b"},{"offset":0.7295,"color":"#b5b0"},
{"offset":0.7405,"color":"#b5b0"},{"offset":0.742,"color":"#b5b"},{"offset":0.7435,"color":"#b5b0"},
{"offset":0.7545,"color":"#b5b0"},{"offset":0.756,"color":"#b5b"},{"offset":0.7575,"color":"#b5b0"},
{"offset":0.7685,"color":"#b5b0"},{"offset":0.77,"color":"#b5b"},{"offset":0.7715,"color":"#b5b0"},
{"offset":0.7825,"color":"#b5b0"},{"offset":0.784,"color":"#b5b"},{"offset":0.7855,"color":"#b5b0"},
{"offset":0.7965,"color":"#b5b0"},{"offset":0.798,"color":"#b5b"},{"offset":0.7995,"color":"#b5b0"},
{"offset":0.8105,"color":"#b5b0"},{"offset":0.812,"color":"#b5b"},{"offset":0.8135,"color":"#b5b0"},
{"offset":0.8245,"color":"#b5b0"},{"offset":0.826,"color":"#b5b"},{"offset":0.8275,"color":"#b5b0"},
{"offset":0.8385,"color":"#b5b0"},{"offset":0.84,"color":"#b5b"},{"offset":0.8415,"color":"#b5b0"},
{"offset":0.8525,"color":"#b5b0"},{"offset":0.854,"color":"#b5b"},{"offset":0.8555,"color":"#b5b0"},
{"offset":0.8665,"color":"#b5b0"},{"offset":0.868,"color":"#b5b"},{"offset":0.8695,"color":"#b5b0"},
{"offset":0.8805,"color":"#b5b0"},{"offset":0.882,"color":"#b5b"},{"offset":0.8835,"color":"#b5b0"},
{"offset":0.8945,"color":"#b5b0"},{"offset":0.896,"color":"#b5b"},{"offset":0.8975,"color":"#b5b0"},
{"offset":0.9085,"color":"#b5b0"},{"offset":0.91,"color":"#b5b"},{"offset":0.9115,"color":"#b5b0"},
{"offset":0.9225,"color":"#b5b0"},{"offset":0.924,"color":"#b5b"},{"offset":0.9255,"color":"#b5b0"},
{"offset":0.9365,"color":"#b5b0"},{"offset":0.938,"color":"#b5b"},{"offset":0.9395,"color":"#b5b0"},
{"offset":0.9505,"color":"#b5b0"},{"offset":0.952,"color":"#b5b"},{"offset":0.9535,"color":"#b5b0"},
{"offset":0.9645,"color":"#b5b0"},{"offset":0.966,"color":"#b5b"},{"offset":0.9675,"color":"#b5b0"},
{"offset":0.9785,"color":"#b5b0"},{"offset":0.98,"color":"#b5b"},{"offset":0.9815,"color":"#b5b0"},
{"offset":0.9925,"color":"#b5b0"},{"offset":0.994,"color":"#b5b"},{"offset":0.9955,"color":"#b5b0"}]}},
"encoding":{"x2":{"field":"w2"},"y2":{"field":"a2"}}},
{"data":{"values":[{"w":1212,"w2":947,"a":0,"a2":688}]},
"mark":{"type":"rect","strokeWidth":0,"fill":{"gradient":"linear","x1":0,"y1":1,"x2":0.225,"y2":-0.1515,"stops":[
{"offset":0.018,"color":"#9cf0"},{"offset":0.02,"color":"#9cf"},{"offset":0.022,"color":"#9cf0"},
{"offset":0.038,"color":"#9cf0"},{"offset":0.04,"color":"#9cf"},{"offset":0.042,"color":"#9cf0"},
{"offset":0.058,"color":"#9cf0"},{"offset":0.06,"color":"#9cf"},{"offset":0.062,"color":"#9cf0"},
{"offset":0.078,"color":"#9cf0"},{"offset":0.08,"color":"#9cf"},{"offset":0.082,"color":"#9cf0"},
{"offset":0.098,"color":"#9cf0"},{"offset":0.1,"color":"#9cf"},{"offset":0.102,"color":"#9cf0"},
{"offset":0.118,"color":"#9cf0"},{"offset":0.12,"color":"#9cf"},{"offset":0.122,"color":"#9cf0"},
{"offset":0.138,"color":"#9cf0"},{"offset":0.14,"color":"#9cf"},{"offset":0.142,"color":"#9cf0"},
{"offset":0.158,"color":"#9cf0"},{"offset":0.16,"color":"#9cf"},{"offset":0.162,"color":"#9cf0"},
{"offset":0.178,"color":"#9cf0"},{"offset":0.18,"color":"#9cf"},{"offset":0.182,"color":"#9cf0"},
{"offset":0.198,"color":"#9cf0"},{"offset":0.2,"color":"#9cf"},{"offset":0.202,"color":"#9cf0"},
{"offset":0.218,"color":"#9cf0"},{"offset":0.22,"color":"#9cf"},{"offset":0.222,"color":"#9cf0"},
{"offset":0.238,"color":"#9cf0"},{"offset":0.24,"color":"#9cf"},{"offset":0.242,"color":"#9cf0"},
{"offset":0.258,"color":"#9cf0"},{"offset":0.26,"color":"#9cf"},{"offset":0.262,"color":"#9cf0"},
{"offset":0.278,"color":"#9cf0"},{"offset":0.28,"color":"#9cf"},{"offset":0.282,"color":"#9cf0"},
{"offset":0.298,"color":"#9cf0"},{"offset":0.3,"color":"#9cf"},{"offset":0.302,"color":"#9cf0"},
{"offset":0.318,"color":"#9cf0"},{"offset":0.32,"color":"#9cf"},{"offset":0.322,"color":"#9cf0"},
{"offset":0.338,"color":"#9cf0"},{"offset":0.34,"color":"#9cf"},{"offset":0.342,"color":"#9cf0"},
{"offset":0.358,"color":"#9cf0"},{"offset":0.36,"color":"#9cf"},{"offset":0.362,"color":"#9cf0"},
{"offset":0.378,"color":"#9cf0"},{"offset":0.38,"color":"#9cf"},{"offset":0.382,"color":"#9cf0"},
{"offset":0.398,"color":"#9cf0"},{"offset":0.4,"color":"#9cf"},{"offset":0.402,"color":"#9cf0"},
{"offset":0.418,"color":"#9cf0"},{"offset":0.42,"color":"#9cf"},{"offset":0.422,"color":"#9cf0"},
{"offset":0.438,"color":"#9cf0"},{"offset":0.44,"color":"#9cf"},{"offset":0.442,"color":"#9cf0"},
{"offset":0.458,"color":"#9cf0"},{"offset":0.46,"color":"#9cf"},{"offset":0.462,"color":"#9cf0"},
{"offset":0.478,"color":"#9cf0"},{"offset":0.48,"color":"#9cf"},{"offset":0.482,"color":"#9cf0"},
{"offset":0.498,"color":"#9cf0"},{"offset":0.5,"color":"#9cf"},{"offset":0.502,"color":"#9cf0"},
{"offset":0.518,"color":"#9cf0"},{"offset":0.52,"color":"#9cf"},{"offset":0.522,"color":"#9cf0"},
{"offset":0.538,"color":"#9cf0"},{"offset":0.54,"color":"#9cf"},{"offset":0.542,"color":"#9cf0"},
{"offset":0.558,"color":"#9cf0"},{"offset":0.56,"color":"#9cf"},{"offset":0.562,"color":"#9cf0"},
{"offset":0.578,"color":"#9cf0"},{"offset":0.58,"color":"#9cf"},{"offset":0.582,"color":"#9cf0"},
{"offset":0.598,"color":"#9cf0"},{"offset":0.6,"color":"#9cf"},{"offset":0.602,"color":"#9cf0"},
{"offset":0.618,"color":"#9cf0"},{"offset":0.62,"color":"#9cf"},{"offset":0.622,"color":"#9cf0"},
{"offset":0.638,"color":"#9cf0"},{"offset":0.64,"color":"#9cf"},{"offset":0.642,"color":"#9cf0"},
{"offset":0.658,"color":"#9cf0"},{"offset":0.66,"color":"#9cf"},{"offset":0.662,"color":"#9cf0"},
{"offset":0.678,"color":"#9cf0"},{"offset":0.68,"color":"#9cf"},{"offset":0.682,"color":"#9cf0"},
{"offset":0.698,"color":"#9cf0"},{"offset":0.7,"color":"#9cf"},{"offset":0.702,"color":"#9cf0"},
{"offset":0.718,"color":"#9cf0"},{"offset":0.72,"color":"#9cf"},{"offset":0.722,"color":"#9cf0"},
{"offset":0.738,"color":"#9cf0"},{"offset":0.74,"color":"#9cf"},{"offset":0.742,"color":"#9cf0"},
{"offset":0.758,"color":"#9cf0"},{"offset":0.76,"color":"#9cf"},{"offset":0.762,"color":"#9cf0"},
{"offset":0.778,"color":"#9cf0"},{"offset":0.78,"color":"#9cf"},{"offset":0.782,"color":"#9cf0"},
{"offset":0.798,"color":"#9cf0"},{"offset":0.8,"color":"#9cf"},{"offset":0.802,"color":"#9cf0"},
{"offset":0.818,"color":"#9cf0"},{"offset":0.82,"color":"#9cf"},{"offset":0.822,"color":"#9cf0"},
{"offset":0.838,"color":"#9cf0"},{"offset":0.84,"color":"#9cf"},{"offset":0.842,"color":"#9cf0"},
{"offset":0.858,"color":"#9cf0"},{"offset":0.86,"color":"#9cf"},{"offset":0.862,"color":"#9cf0"},
{"offset":0.878,"color":"#9cf0"},{"offset":0.88,"color":"#9cf"},{"offset":0.882,"color":"#9cf0"},
{"offset":0.898,"color":"#9cf0"},{"offset":0.9,"color":"#9cf"},{"offset":0.902,"color":"#9cf0"},
{"offset":0.918,"color":"#9cf0"},{"offset":0.92,"color":"#9cf"},{"offset":0.922,"color":"#9cf0"},
{"offset":0.938,"color":"#9cf0"},{"offset":0.94,"color":"#9cf"},{"offset":0.942,"color":"#9cf0"},
{"offset":0.958,"color":"#9cf0"},{"offset":0.96,"color":"#9cf"},{"offset":0.962,"color":"#9cf0"},
{"offset":0.978,"color":"#9cf0"},{"offset":0.98,"color":"#9cf"},{"offset":0.982,"color":"#9cf0"}]}},
"encoding":{"x2":{"field":"w2"},"y2":{"field":"a2"}}},
{"data":{"values":[{"w":1212,"a":0,"a2":688}]},"mark":{"type":"rule","stroke":"#7cf","strokeWidth":1.5},"encoding":{"y2":{"field":"a2"}}},
{"data":{"values":[{"w":922,"w2":807,"a":0,"a2":580}]},
"mark":{"type":"rect","stroke":"#e9f","strokeWidth":1.5,"fill":{"gradient":"linear","x1":0,"y1":0,"x2":0.1097,"y2":1.0896,"stops":[
{"offset":0.021,"color":"#ebf0"},{"offset":0.023,"color":"#ebf"},{"offset":0.025,"color":"#ebf0"},
{"offset":0.044,"color":"#ebf0"},{"offset":0.046,"color":"#ebf"},{"offset":0.048,"color":"#ebf0"},
{"offset":0.067,"color":"#ebf0"},{"offset":0.069,"color":"#ebf"},{"offset":0.071,"color":"#ebf0"},
{"offset":0.09,"color":"#ebf0"},{"offset":0.092,"color":"#ebf"},{"offset":0.094,"color":"#ebf0"},
{"offset":0.113,"color":"#ebf0"},{"offset":0.115,"color":"#ebf"},{"offset":0.117,"color":"#ebf0"},
{"offset":0.136,"color":"#ebf0"},{"offset":0.138,"color":"#ebf"},{"offset":0.14,"color":"#ebf0"},
{"offset":0.159,"color":"#ebf0"},{"offset":0.161,"color":"#ebf"},{"offset":0.163,"color":"#ebf0"},
{"offset":0.182,"color":"#ebf0"},{"offset":0.184,"color":"#ebf"},{"offset":0.186,"color":"#ebf0"},
{"offset":0.205,"color":"#ebf0"},{"offset":0.207,"color":"#ebf"},{"offset":0.209,"color":"#ebf0"},
{"offset":0.228,"color":"#ebf0"},{"offset":0.23,"color":"#ebf"},{"offset":0.232,"color":"#ebf0"},
{"offset":0.251,"color":"#ebf0"},{"offset":0.253,"color":"#ebf"},{"offset":0.255,"color":"#ebf0"},
{"offset":0.274,"color":"#ebf0"},{"offset":0.276,"color":"#ebf"},{"offset":0.278,"color":"#ebf0"},
{"offset":0.297,"color":"#ebf0"},{"offset":0.299,"color":"#ebf"},{"offset":0.301,"color":"#ebf0"},
{"offset":0.32,"color":"#ebf0"},{"offset":0.322,"color":"#ebf"},{"offset":0.324,"color":"#ebf0"},
{"offset":0.343,"color":"#ebf0"},{"offset":0.345,"color":"#ebf"},{"offset":0.347,"color":"#ebf0"},
{"offset":0.366,"color":"#ebf0"},{"offset":0.368,"color":"#ebf"},{"offset":0.37,"color":"#ebf0"},
{"offset":0.389,"color":"#ebf0"},{"offset":0.391,"color":"#ebf"},{"offset":0.393,"color":"#ebf0"},
{"offset":0.412,"color":"#ebf0"},{"offset":0.414,"color":"#ebf"},{"offset":0.416,"color":"#ebf0"},
{"offset":0.435,"color":"#ebf0"},{"offset":0.437,"color":"#ebf"},{"offset":0.439,"color":"#ebf0"},
{"offset":0.458,"color":"#ebf0"},{"offset":0.46,"color":"#ebf"},{"offset":0.462,"color":"#ebf0"},
{"offset":0.481,"color":"#ebf0"},{"offset":0.483,"color":"#ebf"},{"offset":0.485,"color":"#ebf0"},
{"offset":0.504,"color":"#ebf0"},{"offset":0.506,"color":"#ebf"},{"offset":0.508,"color":"#ebf0"},
{"offset":0.527,"color":"#ebf0"},{"offset":0.529,"color":"#ebf"},{"offset":0.531,"color":"#ebf0"},
{"offset":0.55,"color":"#ebf0"},{"offset":0.552,"color":"#ebf"},{"offset":0.554,"color":"#ebf0"},
{"offset":0.573,"color":"#ebf0"},{"offset":0.575,"color":"#ebf"},{"offset":0.577,"color":"#ebf0"},
{"offset":0.596,"color":"#ebf0"},{"offset":0.598,"color":"#ebf"},{"offset":0.6,"color":"#ebf0"},
{"offset":0.619,"color":"#ebf0"},{"offset":0.621,"color":"#ebf"},{"offset":0.623,"color":"#ebf0"},
{"offset":0.642,"color":"#ebf0"},{"offset":0.644,"color":"#ebf"},{"offset":0.646,"color":"#ebf0"},
{"offset":0.665,"color":"#ebf0"},{"offset":0.667,"color":"#ebf"},{"offset":0.669,"color":"#ebf0"},
{"offset":0.688,"color":"#ebf0"},{"offset":0.69,"color":"#ebf"},{"offset":0.692,"color":"#ebf0"},
{"offset":0.711,"color":"#ebf0"},{"offset":0.713,"color":"#ebf"},{"offset":0.715,"color":"#ebf0"},
{"offset":0.734,"color":"#ebf0"},{"offset":0.736,"color":"#ebf"},{"offset":0.738,"color":"#ebf0"},
{"offset":0.757,"color":"#ebf0"},{"offset":0.759,"color":"#ebf"},{"offset":0.761,"color":"#ebf0"},
{"offset":0.78,"color":"#ebf0"},{"offset":0.782,"color":"#ebf"},{"offset":0.784,"color":"#ebf0"},
{"offset":0.803,"color":"#ebf0"},{"offset":0.805,"color":"#ebf"},{"offset":0.807,"color":"#ebf0"},
{"offset":0.826,"color":"#ebf0"},{"offset":0.828,"color":"#ebf"},{"offset":0.83,"color":"#ebf0"},
{"offset":0.849,"color":"#ebf0"},{"offset":0.851,"color":"#ebf"},{"offset":0.853,"color":"#ebf0"},
{"offset":0.872,"color":"#ebf0"},{"offset":0.874,"color":"#ebf"},{"offset":0.876,"color":"#ebf0"},
{"offset":0.895,"color":"#ebf0"},{"offset":0.897,"color":"#ebf"},{"offset":0.899,"color":"#ebf0"},
{"offset":0.918,"color":"#ebf0"},{"offset":0.92,"color":"#ebf"},{"offset":0.922,"color":"#ebf0"},
{"offset":0.941,"color":"#ebf0"},{"offset":0.943,"color":"#ebf"},{"offset":0.945,"color":"#ebf0"},
{"offset":0.964,"color":"#ebf0"},{"offset":0.966,"color":"#ebf"},{"offset":0.968,"color":"#ebf0"},
{"offset":0.987,"color":"#ebf0"},{"offset":0.989,"color":"#ebf"},{"offset":0.991,"color":"#ebf0"}]}},
"encoding":{"x2":{"field":"w2"},"y2":{"field":"a2"}}},
{"data":{"name":"eg"},"mark":{"type":"line","strokeWidth":3},
"encoding":{"detail":{"field":"g"},"color":{"datum":"EG flakes","type":"nominal","scale":{"domain":["EG flakes","TEG500","TEG600","TEG800"],"range":["#0a7d0a","#18c8f2","#0a0ae6","#ff9422"]},
"legend":{"orient":"none","legendX":0,"legendY":7.5,"title":null,"labelFontSize":25,"labelFont":"Liberation Sans","labelColor":"black","symbolType":"M-2,0H2","symbolSize":552,"symbolOffset":11.75,"symbolStrokeWidth":3,"labelOffset":15.5,"rowPadding":5,"padding":0}}}},
{"data":{"name":"t500"},"mark":{"type":"line","strokeWidth":3},
"encoding":{"detail":{"field":"g"},"color":{"datum":"TEG500","type":"nominal"}}},
{"data":{"name":"t600"},"mark":{"type":"line","strokeWidth":3},
"encoding":{"detail":{"field":"g"},"color":{"datum":"TEG600","type":"nominal"}}},
{"data":{"name":"t800"},"mark":{"type":"line","strokeWidth":3},
"encoding":{"detail":{"field":"g"},"color":{"datum":"TEG800","type":"nominal"}}},
{"data":{"values":[{"w":2810,"w2":1739,"a":-4,"a2":4},{"w":2806,"w2":1745,"a":782,"a2":790}]},
"mark":{"type":"rect","fill":"white","strokeWidth":0},"encoding":{"x2":{"field":"w2"},"y2":{"field":"a2"}}},
{"data":{"values":[{"w":2275,"a":0,"t":"//"},{"w":2275,"a":786,"t":"//"}]},
"mark":{"type":"text","font":"Liberation Sans","fontSize":30,"fontStyle":"italic","align":"center","baseline":"middle","color":"black"},
"encoding":{"text":{"field":"t"}}},
{"data":{"name":"greek"},"mark":{"type":"text","font":"Liberation Serif","fontSize":30,"align":"left","baseline":"alphabetic","color":"black"},
"encoding":{"text":{"field":"t"}}},
{"data":{"name":"subs"},"mark":{"type":"text","font":"Liberation Sans","fontSize":21,"align":"left","baseline":"alphabetic","color":"black"},
"encoding":{"text":{"field":"t"}}}
]
}
